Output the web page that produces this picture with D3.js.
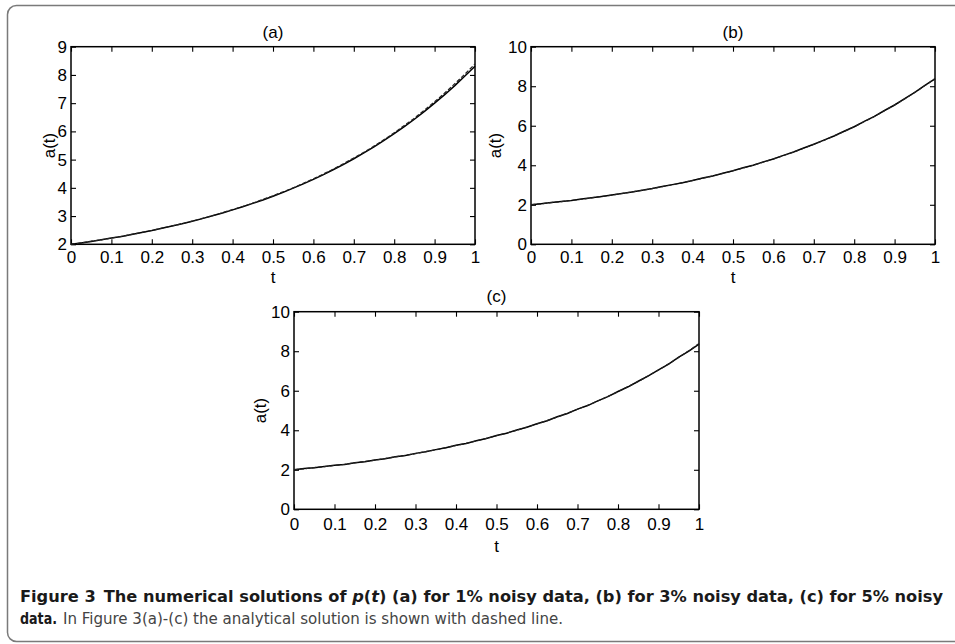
<!DOCTYPE html>
<html>
<head>
<meta charset="utf-8">
<script src="https://cdn.jsdelivr.net/npm/d3@7"></script>
<style>
  html, body { margin: 0; padding: 0; background: #fff; }
  svg { display: block; }
</style>
</head>
<body>
<svg id="chart" width="955" height="644"></svg>
<script>
// ---------- data ----------
const tValues = [0, 0.025, 0.05, 0.075, 0.1, 0.125, 0.15, 0.175, 0.2, 0.225, 0.25, 0.275, 0.3, 0.325, 0.35, 0.375, 0.4, 0.425, 0.45, 0.475, 0.5,
                 0.525, 0.55, 0.575, 0.6, 0.625, 0.65, 0.675, 0.7, 0.725, 0.75, 0.775, 0.8, 0.825, 0.85, 0.875, 0.9, 0.925, 0.95, 0.975, 1];

// analytical solution (dashed)
const analytical = [2.00, 2.05, 2.11, 2.16, 2.22, 2.28, 2.35, 2.42, 2.49, 2.57, 2.65, 2.73, 2.82, 2.92, 3.01, 3.12, 3.23, 3.34, 3.46, 3.59, 3.72,
                    3.86, 4.00, 4.16, 4.32, 4.49, 4.67, 4.86, 5.06, 5.26, 5.48, 5.71, 5.95, 6.21, 6.47, 6.76, 7.05, 7.36, 7.69, 8.03, 8.39];

// numerical solutions (solid)
const numericA = [2.00, 2.05, 2.10, 2.16, 2.22, 2.28, 2.35, 2.42, 2.49, 2.57, 2.65, 2.73, 2.82, 2.91, 3.01, 3.11, 3.22, 3.33, 3.45, 3.57, 3.70,
                  3.84, 3.99, 4.14, 4.30, 4.47, 4.65, 4.83, 5.03, 5.24, 5.45, 5.68, 5.92, 6.17, 6.43, 6.71, 7.00, 7.30, 7.62, 7.96, 8.31];
const numericB = [2.00, 2.05, 2.11, 2.17, 2.22, 2.29, 2.35, 2.42, 2.50, 2.57, 2.65, 2.74, 2.82, 2.92, 3.02, 3.12, 3.23, 3.35, 3.46, 3.60, 3.72,
                  3.87, 4.00, 4.17, 4.32, 4.50, 4.67, 4.87, 5.06, 5.27, 5.48, 5.72, 5.95, 6.22, 6.47, 6.77, 7.05, 7.37, 7.69, 8.04, 8.37];
const numericC = [2.00, 2.06, 2.10, 2.17, 2.23, 2.27, 2.36, 2.41, 2.50, 2.56, 2.66, 2.72, 2.83, 2.91, 3.02, 3.11, 3.24, 3.33, 3.47, 3.58, 3.73,
                  3.85, 4.01, 4.15, 4.33, 4.48, 4.68, 4.85, 5.07, 5.25, 5.49, 5.70, 5.96, 6.20, 6.48, 6.75, 7.06, 7.35, 7.70, 8.01, 8.36];

const xTicks = [0, 0.1, 0.2, 0.3, 0.4, 0.5, 0.6, 0.7, 0.8, 0.9, 1];
const yTicksA = [2, 3, 4, 5, 6, 7, 8, 9];
const yTicksBC = [0, 2, 4, 6, 8, 10];
const panelTitles = ["(a)", "(b)", "(c)"];
const xLabel = "t";
const yLabel = "a(t)";

// ---------- layout ----------
const FONT = "'Liberation Sans', Arial, Helvetica, sans-serif";
const FS = 17;
const CAPFONT = "'Liberation Sans Narrow', 'DejaVu Sans Condensed', 'Liberation Sans', sans-serif";

const panels = [
  { title: panelTitles[0], series: numericA, yDomain: [2, 9], yTicks: yTicksA,
    x0: 71, x1: 475, y0: 46.7, y1: 244.3, titleY: 38, xlblY: 283, ylblX: 55, tickPad: 7 },
  { title: panelTitles[1], series: numericB, yDomain: [0, 10], yTicks: yTicksBC,
    x0: 531, x1: 935, y0: 46.7, y1: 244.3, titleY: 38, xlblY: 283, ylblX: 501, tickPad: 7 },
  { title: panelTitles[2], series: numericC, yDomain: [0, 10], yTicks: yTicksBC,
    x0: 294, x1: 699, y0: 311.7, y1: 509.3, titleY: 302, xlblY: 552, ylblX: 266, tickPad: 9 }
];

const svg = d3.select("#chart");

// outer rounded frame
svg.append("rect")
  .attr("x", 7.5).attr("y", 5.5)
  .attr("width", 1000).attr("height", 636)
  .attr("rx", 9).attr("ry", 9)
  .attr("fill", "none").attr("stroke", "#7a7a7a").attr("stroke-width", 1.5);

function styleAxis(a) {
  a.select(".domain").remove();
  a.attr("font-size", FS).attr("font-family", FONT);
  a.selectAll(".tick text").attr("font-size", FS).attr("font-family", FONT).attr("fill", "#000");
  a.selectAll(".tick line").attr("stroke", "#000").attr("stroke-width", 1.1);
}

panels.forEach(p => {
  const x = d3.scaleLinear().domain([0, 1]).range([p.x0, p.x1]);
  const y = d3.scaleLinear().domain(p.yDomain).range([p.y1, p.y0]);
  const g = svg.append("g");

  g.append("g").attr("transform", `translate(0,${p.y1})`)
    .call(d3.axisBottom(x).tickValues(xTicks).tickFormat(d3.format("")).tickSizeInner(-5).tickSizeOuter(0).tickPadding(p.tickPad))
    .call(styleAxis);
  g.append("g").attr("transform", `translate(0,${p.y0})`)
    .call(d3.axisTop(x).tickValues(xTicks).tickFormat("").tickSizeInner(-5).tickSizeOuter(0))
    .call(styleAxis);
  g.append("g").attr("transform", `translate(${p.x0},0)`)
    .call(d3.axisLeft(y).tickValues(p.yTicks).tickFormat(d3.format("d")).tickSizeInner(-5).tickSizeOuter(0).tickPadding(4))
    .call(styleAxis);
  g.append("g").attr("transform", `translate(${p.x1},0)`)
    .call(d3.axisRight(y).tickValues(p.yTicks).tickFormat("").tickSizeInner(-5).tickSizeOuter(0))
    .call(styleAxis);

  g.append("rect")
    .attr("x", p.x0).attr("y", p.y0)
    .attr("width", p.x1 - p.x0).attr("height", p.y1 - p.y0)
    .attr("fill", "none").attr("stroke", "#000").attr("stroke-width", 1.5);

  const line = d3.line().x((d, i) => x(tValues[i])).y(d => y(d));

  g.append("path").datum(p.series)
    .attr("d", line)
    .attr("fill", "none").attr("stroke", "#000").attr("stroke-width", 1.5);
  g.append("path").datum(analytical)
    .attr("d", line.curve(d3.curveMonotoneX))
    .attr("fill", "none").attr("stroke", "#222").attr("stroke-width", 1.2)
    .attr("stroke-dasharray", "4,2");

  const txt = (sel) => sel.attr("font-family", FONT).attr("font-size", FS).attr("fill", "#000");
  g.append("text").call(txt)
    .attr("x", (p.x0 + p.x1) / 2).attr("y", p.titleY)
    .attr("text-anchor", "middle").text(p.title);
  g.append("text").call(txt)
    .attr("x", (p.x0 + p.x1) / 2).attr("y", p.xlblY)
    .attr("text-anchor", "middle").text(xLabel);
  g.append("text").call(txt)
    .attr("transform", `translate(${p.ylblX},${(p.y0 + p.y1) / 2}) rotate(-90)`)
    .attr("text-anchor", "middle").text(yLabel);
});

// caption
const cap1 = svg.append("text")
  .attr("font-family", CAPFONT).attr("font-size", 16)
  .attr("x", 20).attr("y", 602)
  .attr("textLength", 923).attr("lengthAdjust", "spacingAndGlyphs")
  .attr("font-weight", "bold").attr("fill", "#1a1a1a");
cap1.append("tspan").text("Figure 3\u2002The numerical solutions of ");
cap1.append("tspan").attr("font-style", "italic").text("p");
cap1.append("tspan").text("(");
cap1.append("tspan").attr("font-style", "italic").text("t");
cap1.append("tspan").text(") (a) for 1% noisy data, (b) for 3% noisy data, (c) for 5% noisy");

svg.append("text")
  .attr("font-family", CAPFONT).attr("font-size", 16)
  .attr("x", 20).attr("y", 624)
  .attr("textLength", 37).attr("lengthAdjust", "spacingAndGlyphs")
  .attr("font-weight", "bold").attr("fill", "#1a1a1a")
  .text("data.");
svg.append("text")
  .attr("font-family", CAPFONT).attr("font-size", 16)
  .attr("x", 63).attr("y", 624)
  .attr("textLength", 500).attr("lengthAdjust", "spacingAndGlyphs")
  .attr("fill", "#444")
  .text("In Figure 3(a)-(c) the analytical solution is shown with dashed line.");
</script>
</body>
</html>
